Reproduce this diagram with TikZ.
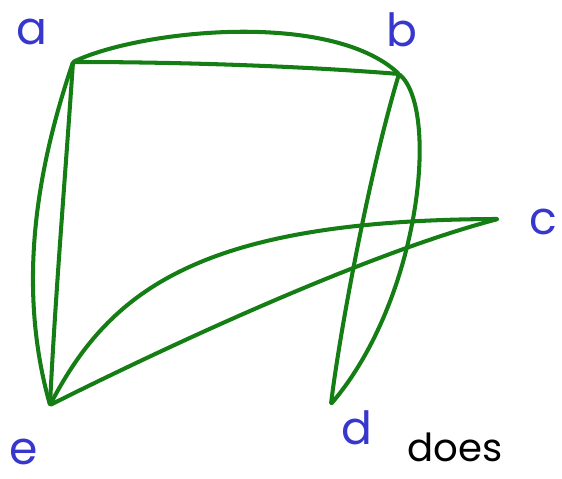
\documentclass[tikz,border=0pt]{standalone}
\usepackage{fontspec}
\setmainfont{Poppins}
\usepackage{xcolor}
\usepackage{tikz}
\usetikzlibrary{positioning}

\definecolor{pengreen}{RGB}{20,125,20}
\definecolor{penblue}{RGB}{55,55,205}

\begin{document}
\begin{tikzpicture}[x=0.02cm, y=-0.02cm, line cap=round, line join=round,
    vertex/.style={circle, inner sep=0pt, minimum size=1pt},
    tag/.style={text=penblue, font=\fontsize{26}{26}\selectfont, inner sep=0pt},
    edge/.style={draw=pengreen, line width=2.3pt}]

\useasboundingbox (0,0) rectangle (562,479);

% vertices
\node[vertex] (a) at (73,62) {};
\node[vertex] (b) at (399,74) {};
\node[vertex] (c) at (498,219) {};
\node[vertex] (d) at (331,404) {};
\node[vertex] (e) at (50,405) {};

% labels
\node[tag] (la) at (32,32) {a};
\node[tag] (lb) at (402,30) {b};
\node[tag] (lc) at (543,222) {c};
\node[tag] (ld) at (357,428) {d};
\node[tag] (le) at (24,452) {e};

% edges
\draw[edge] (a) .. controls (180,62) and (300,66) .. (b);
\draw[edge] (a) .. controls (140,30) and (330,10) .. (b);
\draw[edge] (a) .. controls (65,180) and (55,300) .. (e);
\draw[edge] (a) .. controls (40,160) and (15,280) .. (e);
\draw[edge] (b) .. controls (370,170) and (340,330) .. (d);
\draw[edge] (b) .. controls (440,110) and (420,300) .. (d);
\draw[edge] (e) .. controls (110,290) and (200,220) .. (c);
\draw[edge] (e) .. controls (200,330) and (380,250) .. (c);

% text at the bottom edge
\node[anchor=base, text=black, font=\fontsize{22}{22}\selectfont, inner sep=0pt] (note) at (455,462) {does};
\end{tikzpicture}
\end{document}
